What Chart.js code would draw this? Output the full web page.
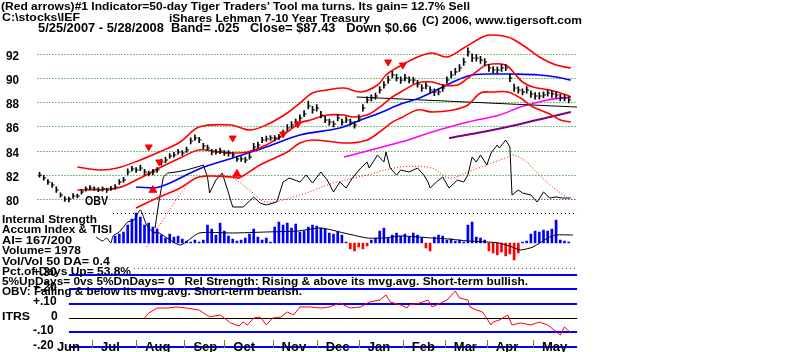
<!DOCTYPE html>
<html><head><meta charset="utf-8">
<script src="https://cdn.jsdelivr.net/npm/chart.js@4.4.0/dist/chart.umd.min.js"></script>
<style>
html,body{margin:0;padding:0;background:#fff;overflow:hidden;}
#wrap{position:relative;width:800px;height:352px;overflow:hidden;}
canvas{position:absolute;left:0;top:0;}
.t{position:absolute;white-space:pre;font-family:"Liberation Sans",Arial,sans-serif;font-weight:bold;color:#000;line-height:1;transform-origin:0 0;}
</style></head><body>
<div id="wrap"><canvas id="c" width="800" height="352"></canvas></div>
<script>
// ---- categories / ticks (trading-day index: 0 = 5/25/2007, 253 = 5/28/2008)
const monthNames = ['Jun','Jul','Aug','Sep','Oct','Nov','Dec','Jan','Feb','Mar','Apr','May'];
const monthStartDay = [4,25,46,69,88,111,132,152,173,193,213,235];
const priceGrid = [92,90,88,86,84,82,80];
const itrsGrid = [0.3,0.2,0.1,0,-0.1,-0.2];
const itrsLabels = ['+.30','+.20','+.10','0','-.10','-.20'];

// ---- price bars, sampled every 2nd trading day
const priceStep = 2;
const priceClose = [81.98,81.74,81.40,81.16,80.74,80.33,80.00,80.00,80.25,80.25,
80.58,80.83,80.91,80.83,80.74,80.83,80.74,80.83,80.99,81.40,
81.57,82.23,82.48,82.40,82.56,82.23,82.07,82.23,82.40,83.06,
83.22,83.55,83.64,83.88,83.80,84.05,84.79,85.04,84.88,84.38,
84.21,83.88,83.88,83.97,83.80,83.80,83.64,83.31,83.31,83.22,
83.47,84.30,84.46,84.88,84.96,85.04,85.04,85.12,85.45,85.87,
86.12,86.36,86.69,87.02,87.69,87.36,87.52,86.94,86.53,86.36,
86.20,86.69,86.36,86.53,86.36,86.12,86.69,87.52,88.18,88.35,
88.51,89.01,89.42,89.83,90.25,90.00,89.83,90.00,89.83,89.83,
89.50,89.17,89.34,89.01,88.84,88.84,89.17,89.83,90.25,90.50,
90.83,91.32,92.15,91.65,91.65,91.49,91.32,90.83,90.66,90.66,
90.83,90.83,90.00,89.17,89.01,88.84,89.01,88.68,88.51,88.51,
88.60,88.76,88.68,88.60,88.35,88.35,88.18];
const priceHigh = [82.2,81.95,81.6,81.35,81.0,80.5,80.2,80.15,80.45,80.4,
80.8,81.0,81.1,81.0,80.95,81.0,80.9,81.05,81.2,81.6,
81.8,82.5,82.7,82.6,82.8,82.45,82.3,82.45,82.6,83.3,
83.45,83.75,83.85,84.1,84.0,84.3,85.05,85.3,85.1,84.6,
84.45,84.1,84.1,84.2,84.0,84.0,83.85,83.55,83.5,83.45,
83.75,84.6,84.7,85.1,85.2,85.25,85.25,85.35,85.7,86.15,
86.4,86.6,86.95,87.3,88.1,87.65,87.8,87.25,86.85,86.6,
86.45,87.0,86.6,86.8,86.6,86.4,86.95,87.8,88.45,88.6,
88.75,89.3,89.7,90.15,90.55,90.3,90.1,90.3,90.1,90.05,
89.8,89.45,89.6,89.3,89.1,89.1,89.45,90.1,90.55,90.8,
91.1,91.65,92.5,92.0,91.95,91.8,91.6,91.1,90.95,90.9,
91.1,91.1,90.35,89.5,89.3,89.1,89.3,88.95,88.8,88.8,
88.85,89.0,88.95,88.85,88.65,88.6,88.45];
const priceLow = [81.8,81.55,81.2,80.95,80.55,80.15,79.8,79.75,80.05,80.1,
80.4,80.65,80.75,80.7,80.6,80.65,80.55,80.7,80.8,81.2,
81.4,82.0,82.3,82.2,82.35,82.0,81.9,82.0,82.2,82.8,
83.0,83.35,83.45,83.7,83.6,83.85,84.55,84.85,84.65,84.15,
84.0,83.65,83.7,83.75,83.6,83.55,83.45,83.1,83.1,83.0,
83.3,84.05,84.25,84.65,84.75,84.85,84.8,84.9,85.2,85.65,
85.9,86.1,86.45,86.8,87.45,87.1,87.25,86.7,86.3,86.1,
85.95,86.45,86.1,86.3,86.1,85.85,86.4,87.25,87.95,88.1,
88.25,88.75,89.15,89.55,90.0,89.75,89.55,89.75,89.6,89.55,
89.25,88.9,89.1,88.75,88.55,88.6,88.9,89.55,90.0,90.25,
90.55,91.05,91.8,91.35,91.4,91.2,91.05,90.55,90.4,90.4,
90.55,90.6,89.7,88.9,88.75,88.6,88.75,88.4,88.25,88.25,
88.35,88.5,88.4,88.35,88.1,88.1,87.95];

// ---- price-panel lines as [day, value]
const upperBand = [[18,82.64],[29,82.40],[37,82.56],[48,83.22],[57,83.88],[67,84.71],[76,85.95],[91,86.12],[100,85.70],[108,86.12],[118,87.11],[124,87.93],[130,88.76],[137,89.01],[145,89.17],[153,88.84],[161,89.42],[165,90.25],[170,90.83],[180,91.74],[187,92.07],[194,91.74],[202,92.48],[210,93.31],[214,93.55],[223,93.39],[230,92.73],[238,91.74],[246,91.07],[253,90.83]];
const midBand = [[18,80.74],[37,80.91],[48,81.74],[57,82.56],[67,83.39],[76,84.05],[86,83.88],[92,83.80],[99,83.88],[108,84.46],[118,85.54],[124,86.28],[129,86.53],[137,86.94],[145,86.94],[149,86.78],[156,86.94],[162,87.60],[168,88.43],[172,88.84],[180,89.59],[187,89.67],[192,89.42],[199,89.42],[204,90.00],[208,90.50],[213,91.07],[222,91.07],[226,90.41],[230,89.67],[235,89.26],[243,89.01],[251,88.60],[253,88.43]];
const lowerBand = [[46,79.26],[56,80.08],[67,80.91],[76,81.82],[92,81.82],[95,81.74],[105,82.81],[118,83.88],[124,84.63],[130,84.88],[140,84.71],[148,84.63],[156,84.88],[162,85.54],[168,86.36],[172,86.69],[180,87.36],[187,87.19],[197,87.36],[204,87.77],[210,88.76],[216,88.84],[223,88.84],[229,88.35],[235,87.60],[242,87.11],[248,86.53],[253,86.36]];
const blueMA = [[46,80.99],[57,80.99],[76,82.48],[92,83.39],[108,84.30],[124,85.29],[143,85.87],[153,86.53],[162,87.11],[172,87.85],[181,88.35],[191,89.17],[199,89.83],[206,90.25],[219,90.33],[225,90.33],[238,90.25],[246,90.08],[253,89.83]];
const trendLine = [[151,88.43],[256,87.60]];
const magentaMA = [[145,83.47],[172,84.71],[187,85.54],[204,86.36],[219,86.94],[229,87.60],[242,88.18],[253,88.43]];
const purpleMA = [[195,85.04],[211,85.54],[227,86.12],[243,86.78],[253,87.19]];
const sellArrows = [[52,84.30],[57,83.06],[92,85.04],[116,85.37],[123,86.20],[166,91.32],[173,91.07]];
const buyArrows = [[54,80.74],[94,82.07]];

// ---- OBV (scaled units) and its moving average
const obv = [[55,0.2],[57,3.0],[59,5.3],[61,5.7],[65,5.8],[70,6.0],[75,6.3],[78,6.5],[80,5.3],[81,3.7],[84,5.0],[87,5.7],[90,3.7],[92,2.3],[97,2.3],[102,3.3],[105,2.7],[108,2.5],[113,2.8],[116,4.8],[119,5.2],[124,4.8],[127,5.5],[130,4.7],[134,5.8],[137,5.0],[140,3.8],[143,4.8],[146,4.2],[149,5.2],[153,6.2],[156,6.8],[157,6.2],[161,7.5],[164,6.8],[165,7.8],[167,6.2],[170,5.5],[172,6.0],[176,5.8],[180,6.2],[183,5.5],[185,4.8],[186,4.2],[189,4.8],[192,5.3],[195,4.2],[199,5.0],[202,4.8],[204,5.5],[206,7.3],[208,6.8],[210,7.5],[213,6.5],[215,7.7],[218,8.5],[219,8.2],[222,9.0],[224,8.3],[225,3.5],[228,4.0],[230,3.7],[234,3.5],[237,2.8],[240,3.8],[243,3.2],[246,3.3],[249,3.2],[253,3.2]];
const obvMA = [[51,-1.7],[61,1.7],[73,5.0],[84,5.5],[92,5.2],[100,4.0],[108,2.8],[124,3.5],[140,4.7],[156,5.5],[172,6.3],[187,6.2],[195,5.2],[204,5.8],[213,6.5],[223,7.3],[226,7.5],[232,6.8],[238,5.5],[245,4.2],[251,3.3]];

// ---- Accumulation index bars (every 2nd day from day 36) and its average
const aiStartDay = 36, aiStep = 2;
const aiValues = [7,9,11,18,24,30,26,18,20,16,
14,8,5,9,6,7,4,2,1,3,
1,3,18,14,8,20,12,7,4,2,
3,5,9,14,6,3,5,1,16,21,
18,20,15,19,11,12,16,18,17,15,
14,10,9,11,8,1,-6,-8,-4,-6,
-3,3,5,12,15,5,8,10,7,9,
6,10,8,5,-5,-8,6,8,7,3,
4,2,3,1,18,21,6,5,3,-8,
-10,-12,-9,-13,-11,-17,-10,1,2,9,
12,11,13,12,14,23,3,2,1];
const aiMA = [[27,6],[30,2],[32,5],[34,0],[35,7],[38,11],[42,21],[45,23],[48,33],[51,18],[54,11],[57,10],[67,-2],[76,10],[92,10],[108,11],[123,12],[134,15],[145,10],[156,5],[164,5],[172,7],[187,5],[195,4],[204,2],[213,1],[219,0],[225,-4],[229,-7],[235,-4],[242,5],[246,8],[254,8]];
const aiUpperDot = 30, aiLowerDot = -25;

// ---- ITRS
const itrs = [[50,0],[52,.034],[56,.069],[61,.069],[65,.076],[70,.069],[76,.055],[81,.007],[86,.021],[91,-.034],[95,-.055],[97,-.028],[99,-.048],[102,0],[105,.007],[108,-.048],[111,0],[115,.007],[118,.041],[121,.021],[124,.076],[129,.076],[134,.069],[138,.076],[143,.103],[148,.069],[153,.076],[157,.110],[162,.124],[165,.159],[167,.110],[172,.090],[175,.069],[176,.090],[181,.103],[185,.124],[187,.076],[191,.103],[194,.124],[198,.186],[200,.138],[204,.124],[205,.076],[208,.055],[211,.041],[215,-.048],[216,-.028],[219,-.014],[223,.021],[225,-.048],[229,-.034],[234,-.048],[238,-.028],[242,-.048],[245,-.083],[248,-.117],[250,-.062],[253,-.103]];

// ---------------------------------------------------------------
const P = a => a.map(([x,y]) => ({x, y}));
const L = (data, axis, color, width, extra) => Object.assign({
  type:'line', data:P(data), yAxisID:axis, xAxisID:'x', borderColor:color, borderWidth:width,
  pointRadius:0, fill:false, tension:0, spanGaps:true}, extra || {});

const priceBars = priceClose.map((c,i) => ({x:i*priceStep, y:[priceLow[i], priceHigh[i]]}));
const closeTicks = priceClose.map((c,i) => ({x:i*priceStep, y:c}));
const aiBars = aiValues.map((v,i) => ({x:aiStartDay + i*aiStep, y:v}));

const guides = {
  id:'guides',
  beforeDatasetsDraw(chart){
    const {ctx, chartArea:a, scales:s} = chart;
    const X = v => s.x.getPixelForValue(v);
    const hline = (scale, v, from, color, dash, w) => {
      const yy = s[scale].getPixelForValue(v);
      const y = w === 2 ? Math.round(yy) : Math.round(yy) + 0.5;
      ctx.beginPath(); ctx.strokeStyle = color; ctx.lineWidth = w; ctx.setLineDash(dash);
      ctx.moveTo(from == null ? a.left : X(from), y); ctx.lineTo(a.right, y); ctx.stroke();
    };
    ctx.save();
    priceGrid.forEach(v => hline('price', v, null, '#008000', [1,2], 1));
    hline('price', 80, 46, '#a0307a', [1,2], 1);
    hline('ai', aiUpperDot, 35, '#000000', [1,3], 1);
    hline('ai', aiLowerDot, 45, '#a0307a', [1,3], 1);
    itrsGrid.forEach(v => hline('itrs', v, 14, v === 0 ? '#000000' : '#0000ff', [], v === 0 ? 1 : 2));
    ctx.setLineDash([]); ctx.strokeStyle = '#808000'; ctx.lineWidth = 1;
    monthStartDay.slice(1).forEach(d => {
      const x = Math.round(X(d)) + 0.5;
      ctx.beginPath(); ctx.moveTo(x, a.bottom - 10); ctx.lineTo(x, a.bottom - 2); ctx.stroke();
    });
    ctx.restore();
  }
};

const chart = new Chart(document.getElementById('c'), {
  type:'line',
  data:{ datasets:[
    L(sellArrows,'price','#ff0000',1,{showLine:false, pointStyle:'triangle', pointRotation:180, pointRadius:4, pointBackgroundColor:'#ff0000', pointBorderColor:'#ff0000'}),
    L(buyArrows,'price','#ff0000',1,{showLine:false, pointStyle:'triangle', pointRadius:4.5, pointBackgroundColor:'#ff0000', pointBorderColor:'#ff0000'}),
    {type:'line', data:closeTicks, yAxisID:'price', xAxisID:'x', showLine:false, pointStyle:'dash', pointRadius:2.5, pointBorderWidth:1, pointBorderColor:'#000', pointBackgroundColor:'#000'},
    {type:'bar', data:priceBars, yAxisID:'price', xAxisID:'x', backgroundColor:'#000', barThickness:1, grouped:false},
    L(upperBand,'price','#ff0000',1.6,{tension:0.35}),
    L(midBand,'price','#ff0000',1.6,{tension:0.35}),
    L(lowerBand,'price','#ff0000',1.6,{tension:0.35}),
    L(blueMA,'price','#0000ff',1.6,{tension:0.35}),
    L(trendLine,'price','#000000',1),
    L(magentaMA,'price','#ff00ff',1.6,{tension:0.35}),
    L(purpleMA,'price','#800080',2,{tension:0.35}),
    L(obv,'obv','#000000',1),
    L(obvMA,'obv','#ff0000',1,{borderDash:[1,2], tension:0.35}),
    L(aiMA,'ai','#000000',1,{tension:0.2}),
    {type:'bar', data:aiBars, yAxisID:'ai', xAxisID:'x', barThickness:2, grouped:false,
     backgroundColor: c => (c.raw && c.raw.y < 0) ? '#ff0000' : '#0000ff'},
    L(itrs,'itrs','#ff0000',1)
  ]},
  options:{
    responsive:false, animation:false, events:[], devicePixelRatio:1,
    layout:{autoPadding:false, padding:{left:37.4, right:222.9, top:30, bottom:2}},
    plugins:{legend:{display:false}, tooltip:{enabled:false}, title:{display:false}},
    scales:{
      x:{type:'linear', min:-1, max:256, display:false, offset:false},
      price:{axis:'y', type:'linear', position:'left', min:67.521, max:93.967, display:false},
      obv:{axis:'y', type:'linear', position:'left', min:-12, max:20, display:false},
      ai:{axis:'y', type:'linear', position:'left', min:-107, max:213, display:false},
      itrs:{axis:'y', type:'linear', position:'left', min:-0.22069, max:1.98621, display:false}
    }
  },
  plugins:[guides]
});

// ---- text (real HTML text)
const wrap = document.getElementById('wrap');
function addText(txt, left, baseline, fs, width){
  const el = document.createElement('div');
  el.className = 't'; el.textContent = txt;
  el.style.fontSize = fs + 'px';
  el.style.left = left + 'px';
  el.style.top = (baseline - 0.8465*fs) + 'px';
  wrap.appendChild(el);
  if (width){ const w = el.getBoundingClientRect().width; if (w > 0) el.style.transform = 'scaleX(' + (width/w) + ')'; }
}
addText("(Red arrows)#1 Indicator=50-day Tiger Traders' Tool ma turns. Its gain= 12.7% Sell", 1, 10, 11, 469);
addText("C:\\stocks\\IEF", 2, 21, 11, 78);
addText("iShares Lehman 7-10 Year Treasury", 169, 22.5, 11, 201);
addText("(C) 2006, www.tigersoft.com", 422, 24.5, 11, 160);
addText("5/25/2007 - 5/28/2008  Band= .025   Close= $87.43   Down $0.66", 38, 32.5, 12, 379);
addText("OBV", 85, 205, 13, 23);
addText("Internal Strength", 2, 223.5, 11, 95);
addText("Accum Index & TISI", 2, 233.5, 11, 110);
addText("AI= 167/200", 2, 244.5, 11, 70);
addText("Volume= 1978", 2, 254.5, 11, 79);
addText("Vol/Vol 50 DA= 0.4", 2, 265, 11, 108);
addText("Pct.of Days Up= 53.8%", 2, 275.5, 11, 129);
addText("5%UpDays= 0vs 5%DnDays= 0   Rel Strength: Rising & above its mvg.avg. Short-term bullish.", 2, 285.5, 11, 526);
addText("OBV: Falling & below its mvg.avg. Short-term bearish.", 2, 295.5, 11, 300);
addText("ITRS", 2, 320.5, 11, 28);

const S = chart.scales;
priceGrid.forEach(v => addText(String(v), 6, S.price.getPixelForValue(v) + 6, 13, 13));
itrsGrid.forEach((v,i) => addText(itrsLabels[i], itrsLabels[i] === '0' ? 51 : 33, S.itrs.getPixelForValue(v) + 2, 12));
monthNames.forEach((m,i) => addText(m, S.x.getPixelForValue(monthStartDay[i]) + 9, 351, 13));
</script>
</body></html>
